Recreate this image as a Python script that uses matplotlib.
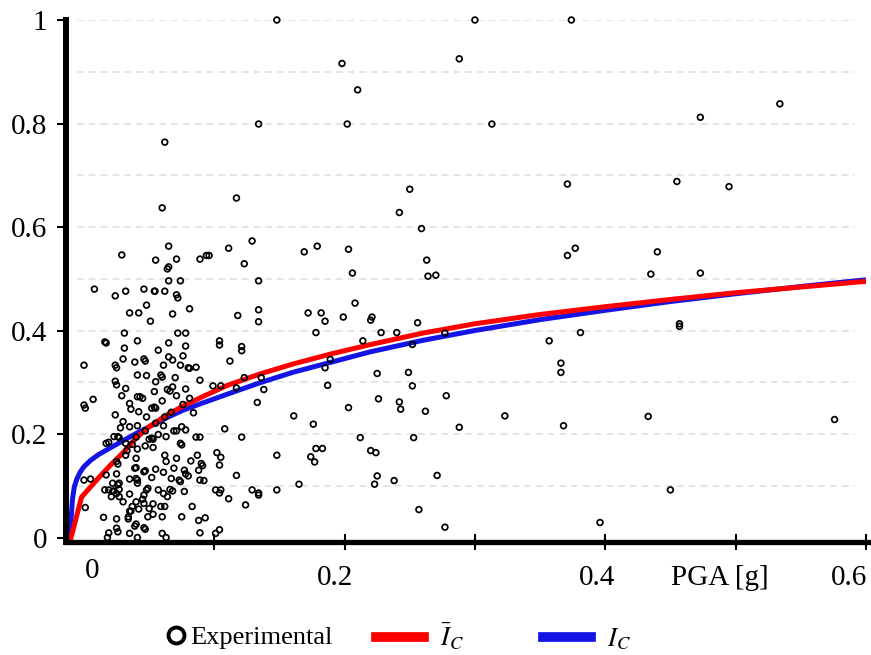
import matplotlib
matplotlib.use("Agg")
import matplotlib.pyplot as plt
from matplotlib.lines import Line2D

plt.rcParams['font.family'] = ['Liberation Serif', 'DejaVu Serif']
plt.rcParams['mathtext.fontset'] = 'stix'

# ---------------- data ----------------
pga = [
    0.148, 0.300, 0.374, 0.198, 0.288, 0.210, 0.534, 0.473, 0.134, 0.202,
    0.313, 0.062, 0.117, 0.250, 0.371, 0.455, 0.495, 0.060, 0.242, 0.259,
    0.129, 0.111, 0.065, 0.169, 0.179, 0.203, 0.440, 0.029, 0.371, 0.377,
    0.055, 0.071, 0.089, 0.094, 0.096, 0.123, 0.263, 0.065, 0.064, 0.206,
    0.435, 0.473, 0.264, 0.270, 0.065, 0.074, 0.134, 0.008, 0.024, 0.032,
    0.046, 0.054, 0.0545, 0.062, 0.071, 0.072, 0.048, 0.081, 0.035, 0.042,
    0.068, 0.051, 0.118, 0.134, 0.134, 0.172, 0.182, 0.185, 0.208, 0.199,
    0.221, 0.220, 0.256, 0.457, 0.457, 0.031, 0.072, 0.078, 0.178, 0.228,
    0.240, 0.277, 0.381, 0.016, 0.017, 0.041, 0.065, 0.031, 0.078, 0.057,
    0.104, 0.104, 0.121, 0.121, 0.214, 0.252, 0.357, 0.065, 0.076, 0.112,
    0.189, 0.185, 0.366, 0.366, 0.225, 0.249, 0.187, 0.252, 0.226, 0.242,
    0.243, 0.262, 0.278, 0.203, 0.176, 0.288, 0.323, 0.368, 0.212, 0.253,
    0.178, 0.183, 0.174, 0.177, 0.220, 0.224, 0.165, 0.225, 0.223, 0.238,
    0.271, 0.257, 0.277, 0.396, 0.433, 0.576, 0.450, 0.161, 0.148, 0.138,
    0.136, 0.123, 0.133, 0.099, 0.105, 0.117, 0.108, 0.121, 0.089, 0.087,
    0.102, 0.105, 0.104, 0.090, 0.091, 0.088, 0.089, 0.092, 0.117, 0.101,
    0.105, 0.104, 0.111, 0.129, 0.134, 0.134, 0.148, 0.124, 0.088, 0.093,
    0.089, 0.101, 0.104, 0.086, 0.084, 0.089, 0.086,
    0.000, 0.024, 0.025, 0.030, 0.039, 0.046, 0.047, 0.061, 0.068, 0.074,
    0.080, 0.081, 0.041, 0.048, 0.059, 0.060, 0.070, 0.024, 0.025, 0.032,
    0.055, 0.064, 0.066, 0.068, 0.078, 0.007, 0.000, 0.001, 0.029, 0.035,
    0.041, 0.043, 0.045, 0.054, 0.052, 0.054, 0.055, 0.060, 0.071, 0.076,
    0.081, 0.024, 0.036, 0.042, 0.048, 0.062, 0.067, 0.030, 0.028, 0.035,
    0.041, 0.047, 0.055, 0.061, 0.069, 0.075, 0.078, 0.017, 0.019, 0.023,
    0.026, 0.027, 0.032, 0.037, 0.040, 0.050, 0.052, 0.053, 0.057, 0.063,
    0.071, 0.074, 0.075, 0.033, 0.041, 0.047, 0.053, 0.032, 0.025, 0.026,
    0.040, 0.062, 0.063, 0.071, 0.082, 0.039, 0.040, 0.046, 0.047, 0.055,
    0.061, 0.069, 0.077, 0.078, 0.080, 0.017, 0.025, 0.035, 0.040, 0.041,
    0.052, 0.067, 0.073, 0.074, 0.000, 0.005, 0.022, 0.026, 0.027, 0.041,
    0.022, 0.023, 0.025, 0.016, 0.019, 0.027, 0.048, 0.049, 0.057, 0.066,
    0.068, 0.077, 0.021, 0.027, 0.035, 0.046, 0.061, 0.064, 0.030, 0.040,
    0.045, 0.046, 0.053, 0.059, 0.062, 0.083, 0.001, 0.037, 0.035, 0.036,
    0.042, 0.050, 0.015, 0.025, 0.034, 0.034, 0.049, 0.053, 0.060, 0.075,
    0.040, 0.039, 0.046, 0.047, 0.025, 0.019, 0.026, 0.035, 0.060, 0.018,
    0.041, 0.063,
]
ic_exp = [
    1.000, 1.000, 1.000, 0.916, 0.925, 0.865, 0.838, 0.812, 0.799, 0.799,
    0.799, 0.764, 0.656, 0.673, 0.683, 0.688, 0.678, 0.637, 0.628, 0.597,
    0.573, 0.559, 0.563, 0.552, 0.563, 0.557, 0.552, 0.546, 0.545, 0.559,
    0.536, 0.538, 0.538, 0.545, 0.545, 0.529, 0.536, 0.523, 0.519, 0.511,
    0.509, 0.511, 0.505, 0.507, 0.496, 0.496, 0.496, 0.480, 0.467, 0.476,
    0.480, 0.476, 0.476, 0.476, 0.469, 0.463, 0.449, 0.442, 0.434, 0.434,
    0.432, 0.418, 0.429, 0.440, 0.417, 0.434, 0.434, 0.418, 0.453, 0.426,
    0.426, 0.420, 0.415, 0.413, 0.408, 0.395, 0.395, 0.395, 0.396, 0.396,
    0.396, 0.395, 0.396, 0.378, 0.376, 0.380, 0.376, 0.366, 0.370, 0.362,
    0.380, 0.372, 0.369, 0.361, 0.380, 0.373, 0.380, 0.349, 0.351, 0.341,
    0.344, 0.328, 0.337, 0.319, 0.317, 0.319, 0.294, 0.293, 0.268, 0.262,
    0.248, 0.244, 0.274, 0.251, 0.219, 0.213, 0.235, 0.216, 0.193, 0.193,
    0.172, 0.172, 0.156, 0.146, 0.168, 0.164, 0.103, 0.119, 0.103, 0.110,
    0.120, 0.054, 0.020, 0.029, 0.234, 0.228, 0.092, 0.235, 0.159, 0.286,
    0.309, 0.309, 0.261, 0.293, 0.293, 0.289, 0.210, 0.194, 0.194, 0.159,
    0.164, 0.155, 0.140, 0.143, 0.139, 0.130, 0.111, 0.110, 0.120, 0.092,
    0.092, 0.086, 0.075, 0.092, 0.086, 0.082, 0.092, 0.063, 0.033, 0.038,
    0.009, 0.008, 0.015, 0.194, 0.241, 0.304, 0.329,
    0.333, 0.333, 0.328, 0.345, 0.339, 0.345, 0.341, 0.333, 0.343, 0.333,
    0.328, 0.327, 0.314, 0.313, 0.314, 0.310, 0.309, 0.302, 0.295, 0.288,
    0.301, 0.286, 0.283, 0.291, 0.287, 0.267, 0.256, 0.250, 0.274, 0.259,
    0.272, 0.272, 0.269, 0.282, 0.250, 0.252, 0.250, 0.264, 0.274, 0.257,
    0.269, 0.237, 0.248, 0.243, 0.233, 0.233, 0.242, 0.224, 0.212, 0.214,
    0.216, 0.206, 0.221, 0.216, 0.206, 0.214, 0.208, 0.182, 0.184, 0.195,
    0.195, 0.193, 0.182, 0.180, 0.194, 0.190, 0.192, 0.190, 0.199, 0.195,
    0.206, 0.182, 0.179, 0.168, 0.171, 0.177, 0.174, 0.159, 0.147, 0.142,
    0.153, 0.159, 0.147, 0.153, 0.148, 0.134, 0.135, 0.127, 0.129, 0.132,
    0.126, 0.134, 0.130, 0.123, 0.119, 0.121, 0.123, 0.113, 0.114, 0.111,
    0.116, 0.114, 0.111, 0.108, 0.111, 0.113, 0.105, 0.102, 0.105, 0.105,
    0.089, 0.090, 0.085, 0.092, 0.092, 0.093, 0.092, 0.095, 0.092, 0.093,
    0.090, 0.089, 0.079, 0.079, 0.084, 0.082, 0.085, 0.079, 0.069, 0.069,
    0.074, 0.066, 0.065, 0.060, 0.060, 0.060, 0.058, 0.060, 0.051, 0.051,
    0.055, 0.056, 0.039, 0.036, 0.040, 0.036, 0.040, 0.045, 0.040, 0.040,
    0.026, 0.022, 0.019, 0.016, 0.018, 0.009, 0.011, 0.008, 0.008, 0.000,
    0.000, 0.000,
]

# fitted curves
ic_bar_x = [-0.0107, -0.0064, -0.0019, 0.003, 0.010, 0.020, 0.030, 0.040,
            0.050, 0.063, 0.076, 0.090, 0.110, 0.135, 0.160, 0.190, 0.220,
            0.260, 0.300, 0.350, 0.400, 0.450, 0.500, 0.550, 0.600]
ic_bar_y = [-0.0077, 0.034, 0.078, 0.092, 0.112, 0.139, 0.164, 0.192,
            0.214, 0.236, 0.254, 0.271, 0.294, 0.316, 0.335, 0.355, 0.373,
            0.395, 0.413, 0.431, 0.446, 0.460, 0.473, 0.484, 0.495]
ic_x = [-0.0107, -0.0098, -0.0088, -0.0074, -0.0055, -0.003, 0.000, 0.005,
        0.011, 0.020, 0.030, 0.040, 0.050, 0.063, 0.076, 0.090, 0.110,
        0.135, 0.160, 0.190, 0.220, 0.260, 0.300, 0.350, 0.400, 0.450,
        0.500, 0.550, 0.600]
ic_y = [-0.0077, 0.040, 0.075, 0.098, 0.113, 0.126, 0.137, 0.149,
        0.160, 0.173, 0.187, 0.201, 0.214, 0.231, 0.246, 0.259, 0.277,
        0.299, 0.319, 0.339, 0.359, 0.381, 0.400, 0.421, 0.439, 0.456,
        0.471, 0.485, 0.498]

y_ticks = [0, 0.2, 0.4, 0.6, 0.8, 1.0]
y_ticklabels = ["0", "0.2", "0.4", "0.6", "0.8", "1"]
x_ticks = [0.1, 0.2, 0.3, 0.4, 0.5, 0.6]
x_labels = ["0", "0.2", "0.4", "PGA [g]", "0.6"]
x_label_pos = [0.0061, 0.1926, 0.3937, 0.488, 0.5867]
x_label_y = [-0.070, -0.0834, -0.0834, -0.0834, -0.0834]
grid_levels = [0.1, 0.2, 0.3, 0.4, 0.5, 0.6, 0.7, 0.8, 0.9, 1.0]

# ---------------- figure ----------------
fig = plt.figure(figsize=(8.71, 6.55), dpi=100)
ax = fig.add_axes([66 / 871, 1 - 541.5 / 655, 801.8 / 871, 521.5 / 655])
ax.set_xlim(-0.0138, 0.6015)
ax.set_ylim(-0.0077, 1.0)

ax.hlines(grid_levels, -0.0054, 0.5917, colors='#dedede', linewidth=1.1,
          linestyles=[(0, (4.5, 3.2))], zorder=0)

ax.plot(ic_x, ic_y, color='#1414e6', lw=3.6, zorder=2, solid_capstyle='butt',
        solid_joinstyle='round')
ax.plot(ic_bar_x, ic_bar_y, color='#ff0000', lw=3.6, zorder=2.1,
        solid_capstyle='butt', solid_joinstyle='round')
ax.scatter(pga, ic_exp, s=17, facecolors='none', edgecolors='black',
           linewidths=1.25, zorder=3, clip_on=False)

for s in ['top', 'right']:
    ax.spines[s].set_visible(False)
ax.spines['left'].set_linewidth(4.3)
ax.spines['bottom'].set_linewidth(3.8)

ax.set_yticks(y_ticks)
ax.set_yticklabels(y_ticklabels)
ax.tick_params(axis='y', direction='out', length=6.5, width=1.5, pad=7,
               labelsize=21)
ax.set_xticks(x_ticks)
ax.tick_params(axis='x', direction='inout', length=11.5, width=1.5,
               labelbottom=False)

tr = ax.get_xaxis_transform()
for lab, xp, yp in zip(x_labels, x_label_pos, x_label_y):
    ax.text(xp, yp, lab, transform=tr, ha='center', va='baseline', fontsize=21)

# legend
h_exp = Line2D([], [], marker='o', ls='none', markersize=11.5, mew=2.8,
               mfc='none', mec='black')
h_bar = Line2D([], [], color='#ff0000', lw=7)
h_ic = Line2D([], [], color='#1414e6', lw=7)
leg1 = fig.legend(handles=[h_exp], labels=['Experimental'], loc='center left',
                  bbox_to_anchor=(165 / 871, 1 - 637 / 655), frameon=False,
                  fontsize=19, handlelength=0.8, handletextpad=0.15,
                  borderpad=0, borderaxespad=0)
leg2 = fig.legend(handles=[h_bar, h_ic], labels=[r'$\bar{I}_C$', r'$I_C$'],
                  loc='center left', ncol=2,
                  bbox_to_anchor=(376 / 871, 1 - 637 / 655), frameon=False,
                  fontsize=19, handlelength=1.82, handletextpad=0.6,
                  columnspacing=3.0, borderpad=0, borderaxespad=0)

fig.savefig('out.png', dpi=100)
